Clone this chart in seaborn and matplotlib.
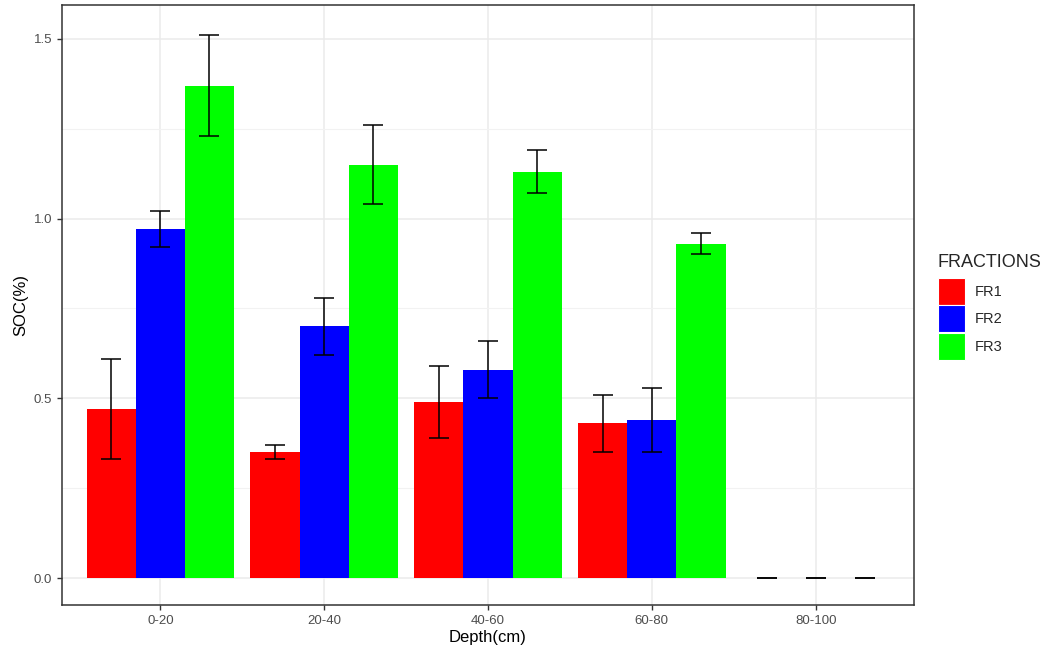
import pandas as pd
import matplotlib.pyplot as plt
import matplotlib.patches as mpatches
import seaborn as sns

depths = ["0-20", "20-40", "40-60", "60-80", "80-100"]
fractions = ["FR1", "FR2", "FR3"]
fr1 = [0.47, 0.35, 0.49, 0.43, 0.0]
fr2 = [0.97, 0.70, 0.58, 0.44, 0.0]
fr3 = [1.37, 1.15, 1.13, 0.93, 0.0]
fr1_se = [0.14, 0.02, 0.10, 0.08, 0.0]
fr2_se = [0.05, 0.08, 0.08, 0.09, 0.0]
fr3_se = [0.14, 0.11, 0.06, 0.03, 0.0]
colors = ["#FF0000", "#0000FF", "#00FF00"]

data = pd.DataFrame({
    "Depth": depths * 3,
    "FRACTIONS": ["FR1"] * 5 + ["FR2"] * 5 + ["FR3"] * 5,
    "SOC": fr1 + fr2 + fr3,
    "se": fr1_se + fr2_se + fr3_se,
})

sns.set_style("white")
plt.rcParams['font.family'] = ['Liberation Sans', 'DejaVu Sans']

fig, ax = plt.subplots(figsize=(10.46, 6.57), dpi=100)
fig.subplots_adjust(left=0.0593, right=0.8738, top=0.9924, bottom=0.0791)

sns.barplot(ax=ax, data=data, x="Depth", y="SOC", hue="FRACTIONS",
            hue_order=fractions, palette=colors, width=0.9, errorbar=None,
            saturation=1, legend=False, linewidth=0, zorder=2)

# error bars centred on each bar
for i, fr in enumerate(fractions):
    sub = data[data["FRACTIONS"] == fr]
    bars = ax.containers[i]
    xs = [p.get_x() + p.get_width() / 2 for p in bars]
    ax.errorbar(xs, sub["SOC"], yerr=sub["se"], fmt="none", ecolor="black",
                elinewidth=1.1, capsize=7, capthick=1.1, zorder=3)

ax.set_xlim(-0.6, 4.6)
ax.set_ylim(-0.075, 1.594)
ax.set_yticks([0.0, 0.5, 1.0, 1.5])
ax.set_yticklabels(["0.0", "0.5", "1.0", "1.5"])
ax.set_yticks([0.25, 0.75, 1.25], minor=True)
ax.grid(True, which="major", color="#EBEBEB", linewidth=1.1, zorder=0)
ax.grid(True, which="minor", axis="y", color="#F2F2F2", linewidth=0.8, zorder=0)
ax.set_axisbelow(True)
for s in ax.spines.values():
    s.set_color("#333333")
    s.set_linewidth(1.1)
    s.set_visible(True)
ax.tick_params(axis="both", which="major", length=3.5, color="#333333",
               labelcolor="#4D4D4D", labelsize=9.5, width=1.0, bottom=True, left=True)
ax.tick_params(axis="y", which="minor", length=0)

ax.set_xlabel("Depth(cm)", fontsize=12, color="black", labelpad=2)
ax.set_ylabel("SOC(%)", fontsize=12, color="black", labelpad=4)

handles = [mpatches.Patch(facecolor=c, edgecolor="white", linewidth=0.8, label=f)
           for c, f in zip(colors, fractions)]
leg = ax.legend(handles=handles, title="FRACTIONS", loc="center left",
                bbox_to_anchor=(1.028, 0.497), frameon=False, fontsize=10.5,
                title_fontsize=13, handlelength=1.85, handleheight=2.47,
                handletextpad=0.7, labelspacing=0.05, borderaxespad=0,
                borderpad=0)
leg._legend_box.align = "left"
leg._legend_box.sep = 5

fig.savefig("out.png", dpi=100)
